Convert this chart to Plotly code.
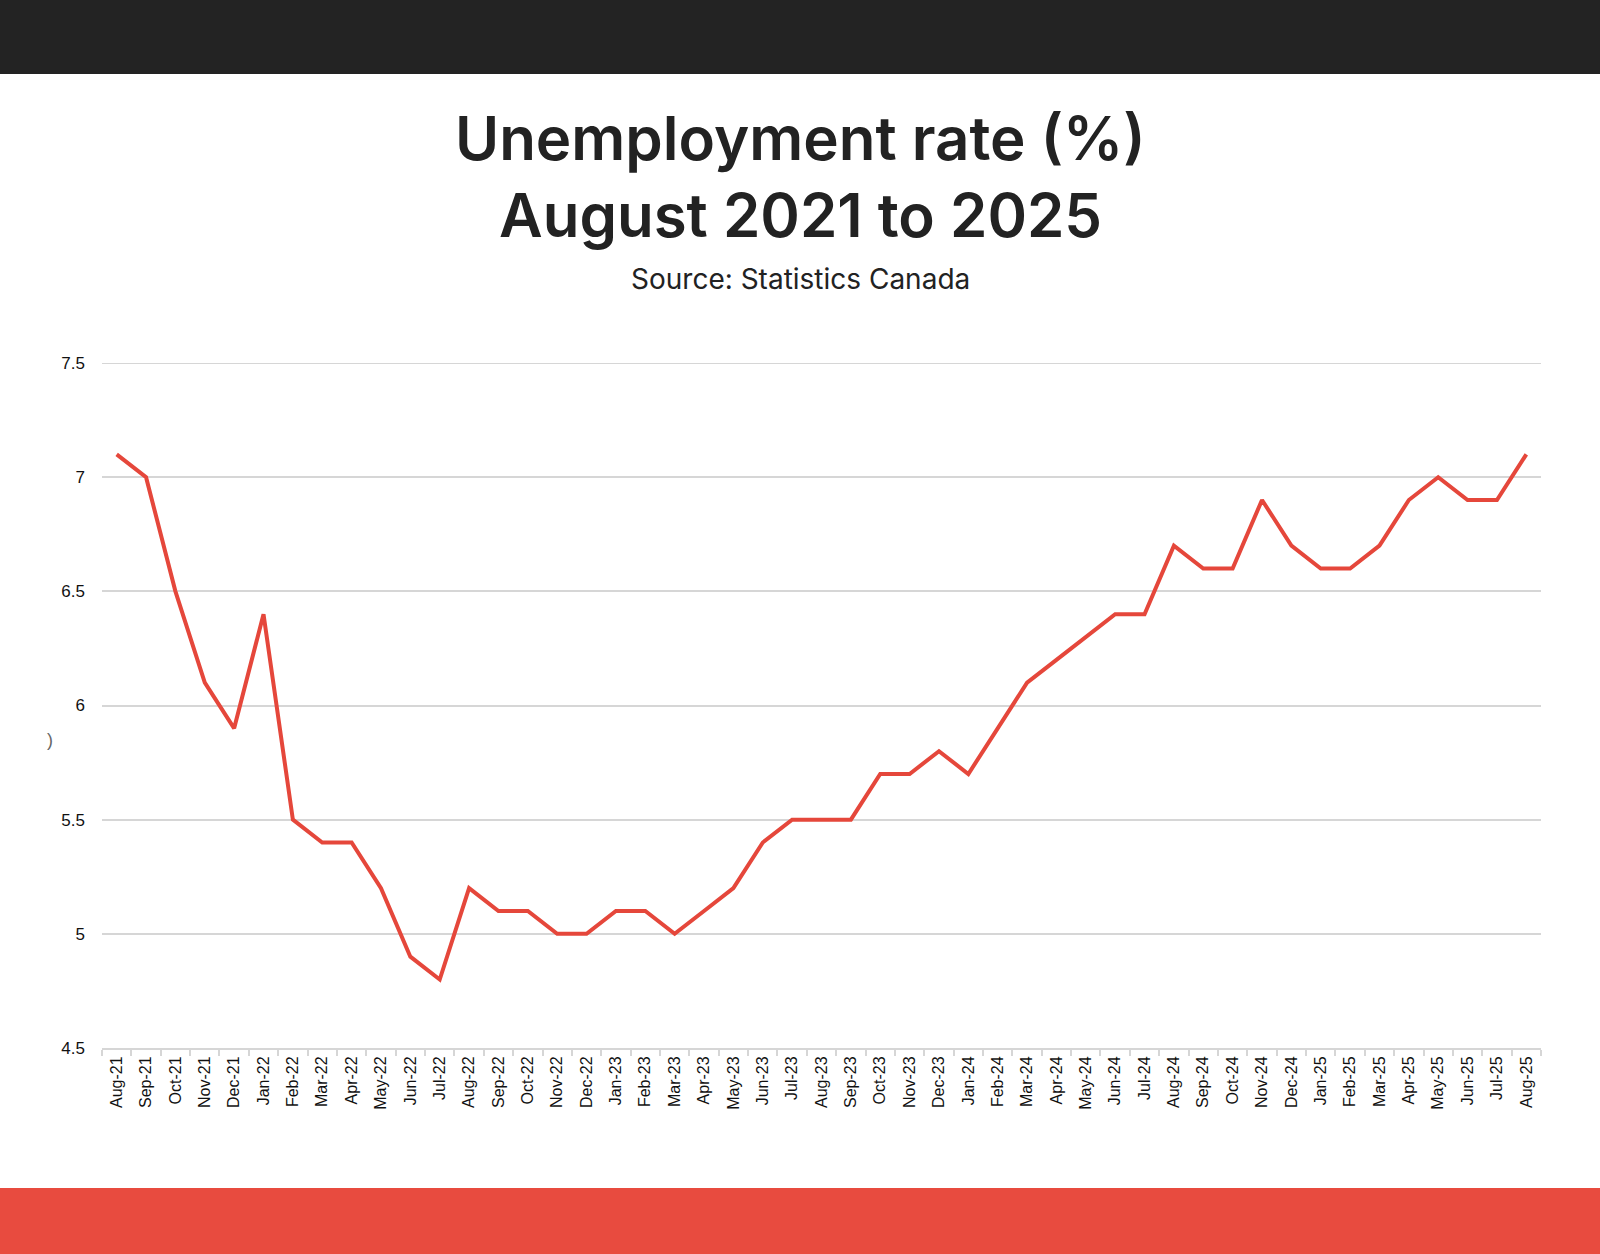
import plotly.graph_objects as go

months = ["Aug-21","Sep-21","Oct-21","Nov-21","Dec-21",
          "Jan-22","Feb-22","Mar-22","Apr-22","May-22","Jun-22","Jul-22","Aug-22","Sep-22","Oct-22","Nov-22","Dec-22",
          "Jan-23","Feb-23","Mar-23","Apr-23","May-23","Jun-23","Jul-23","Aug-23","Sep-23","Oct-23","Nov-23","Dec-23",
          "Jan-24","Feb-24","Mar-24","Apr-24","May-24","Jun-24","Jul-24","Aug-24","Sep-24","Oct-24","Nov-24","Dec-24",
          "Jan-25","Feb-25","Mar-25","Apr-25","May-25","Jun-25","Jul-25","Aug-25"]
rate = [7.1, 7.0, 6.5, 6.1, 5.9,
        6.4, 5.5, 5.4, 5.4, 5.2, 4.9, 4.8, 5.2, 5.1, 5.1, 5.0, 5.0,
        5.1, 5.1, 5.0, 5.1, 5.2, 5.4, 5.5, 5.5, 5.5, 5.7, 5.7, 5.8,
        5.7, 5.9, 6.1, 6.2, 6.3, 6.4, 6.4, 6.7, 6.6, 6.6, 6.9, 6.7,
        6.6, 6.6, 6.7, 6.9, 7.0, 6.9, 6.9, 7.1]
y_ticks = [4.5, 5, 5.5, 6, 6.5, 7, 7.5]
y_tick_text = ["4.5", "5", "5.5", "6", "6.5", "7", "7.5"]

title_line1 = "Unemployment rate (%)"
title_line2 = "August 2021 to 2025"
subtitle = "Source: Statistics Canada"

W, H = 1600, 1254
L, R, T, B = 102, 59, 363, 206
ph = H - T - B
pw = W - L - R

def py(p):
    return (H - B - p) / ph

fig = go.Figure()
fig.add_trace(go.Scatter(
    x=months, y=rate, mode="lines",
    line=dict(color="#E5473B", width=4),
    hoverinfo="x+y", showlegend=False,
))

shapes = [
    dict(type="rect", xref="paper", yref="paper", x0=-0.2, x1=1.2,
         y0=py(74), y1=py(-10), fillcolor="#232323", line=dict(width=0), layer="above"),
    dict(type="rect", xref="paper", yref="paper", x0=-0.2, x1=1.2,
         y0=py(H + 10), y1=py(1188), fillcolor="#E84B3F", line=dict(width=0), layer="above"),
]
# top gridline (at range edge, not drawn by plotly's grid)
shapes.append(dict(type="line", xref="paper", yref="y", x0=0, x1=1,
                   y0=y_ticks[-1], y1=y_ticks[-1],
                   line=dict(color="#d6d6d6", width=2), layer="below"))

fig.update_layout(
    width=W, height=H,
    margin=dict(l=L, r=R, t=T, b=B),
    paper_bgcolor="white", plot_bgcolor="white",
    font=dict(family="Liberation Sans, Arial, sans-serif", color="#111111"),
    xaxis=dict(
        type="category", range=[-0.5, len(months) - 0.5],
        tickangle=-90, tickfont=dict(size=16, color="#111111"),
        showgrid=False, showline=True, linecolor="#d6d6d6", linewidth=2,
        ticks="outside", tickson="boundaries", ticklen=6, tickcolor="#d6d6d6", tickwidth=2,
        fixedrange=True,
    ),
    yaxis=dict(
        range=[4.5, 7.5], tickvals=y_ticks, ticktext=y_tick_text,
        tickfont=dict(size=17, color="#111111"),
        showgrid=True, gridcolor="#d6d6d6", gridwidth=2,
        showline=False, zeroline=False, ticks="", ticklabelstandoff=16,
        fixedrange=True,
    ),
    shapes=shapes,
    annotations=[
        dict(text=title_line1, xref="paper", yref="paper", x=(800 - L) / pw, y=py(138),
             xanchor="center", yanchor="middle", showarrow=False,
             font=dict(family="Inter, Lato, sans-serif", size=60, color="#222222", weight=600)),
        dict(text=title_line2, xref="paper", yref="paper", x=(800 - L) / pw, y=py(215),
             xanchor="center", yanchor="middle", showarrow=False,
             font=dict(family="Inter, Lato, sans-serif", size=60, color="#222222", weight=600)),
        dict(text=subtitle, xref="paper", yref="paper", x=(800 - L) / pw, y=py(279),
             xanchor="center", yanchor="middle", showarrow=False,
             font=dict(family="Inter, Lato, sans-serif", size=28, color="#222222")),
        dict(text=")", xref="paper", yref="paper", x=(50 - L) / pw, y=py(740),
             xanchor="center", yanchor="middle", showarrow=False,
             font=dict(family="Liberation Sans, Arial, sans-serif", size=18, color="#666666")),
    ],
)

fig.write_html("out.html", config={"displayModeBar": False},
               post_script="document.body.style.margin='0';")
